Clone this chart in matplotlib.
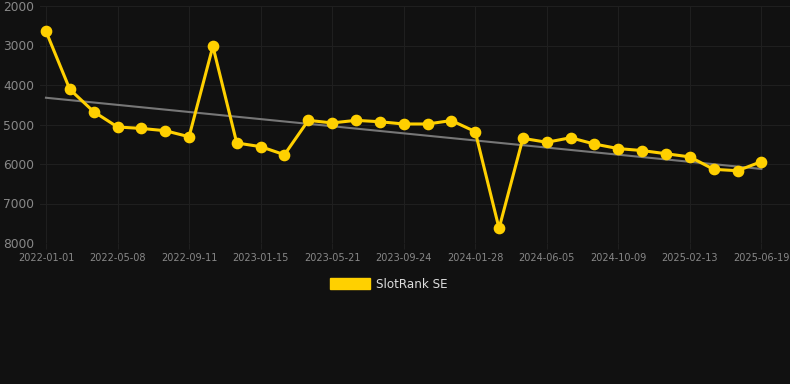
import numpy as np
import matplotlib
matplotlib.use("Agg")
import matplotlib.pyplot as plt

# --- DATA ---
tick_labels = ["2022-01-01", "2022-05-08", "2022-09-11", "2023-01-15", "2023-05-21",
               "2023-09-24", "2024-01-28", "2024-06-05", "2024-10-09", "2025-02-13",
               "2025-06-19"]
ranks = [2640, 4110, 4675, 5063, 5100, 5157, 5310, 3020, 5468, 5560,
         5765, 4895, 4960, 4895, 4930, 4987, 4987, 4900, 5180, 7630,
         5350, 5450, 5335, 5495, 5610, 5660, 5740, 5820, 6135, 6170,
         5940]
series_name = "SlotRank SE"

BG = "#111111"
GOLD = "#FFD000"

x = np.arange(len(ranks))
slope, intercept = np.polyfit(x, ranks, 1)
trend = slope * x + intercept

fig = plt.figure(figsize=(7.9, 3.84), dpi=100)
fig.patch.set_facecolor(BG)
ax = fig.add_axes([40 / 790, 1 - 243 / 384, 750 / 790, 237 / 384])
ax.set_facecolor(BG)

# trend line + series
ax.plot(x[[0, -1]], trend[[0, -1]], color="#777777", lw=1.5, zorder=2)
ax.plot(x, ranks, color=GOLD, lw=2.2, marker="o", markersize=7.4,
        markerfacecolor=GOLD, markeredgecolor=GOLD, zorder=3, label=series_name)

ax.set_ylim(8000, 2000)
ax.set_yticks([2000, 3000, 4000, 5000, 6000, 7000, 8000])
ax.set_xlim(-0.25, 31.2)
ax.set_xticks(x[::3])
ax.set_xticklabels(tick_labels)

ax.grid(True, color="#1f1f1f", lw=0.8)
for s in ax.spines.values():
    s.set_visible(False)
ax.tick_params(axis="y", length=0, pad=4, labelsize=8.8, colors="#888888")
ax.tick_params(axis="x", length=4, color="#1f1f1f", pad=3, labelsize=7, colors="#888888")

fig.legend(handles=[plt.Rectangle((0, 0), 1, 1, color=GOLD)], labels=[series_name],
           loc="center", bbox_to_anchor=(0.492, 1 - 284 / 384), frameon=False,
           handlelength=3.3, handleheight=1.0, fontsize=8.6, labelcolor="#dddddd",
           handletextpad=0.5)

fig.savefig("out.png", dpi=100, facecolor=BG)
